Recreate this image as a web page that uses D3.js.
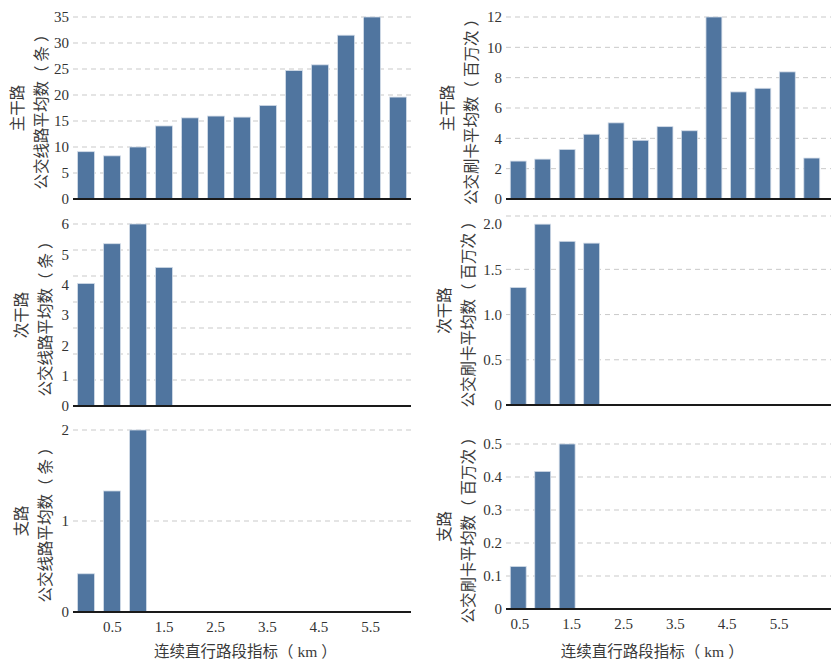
<!DOCTYPE html>
<html>
<head>
<meta charset="utf-8">
<script src="https://cdn.jsdelivr.net/npm/d3@7"></script>
<style>
  html, body { margin: 0; padding: 0; background: #fff; }
  svg { display: block; }
  text { font-family: "Liberation Serif", "Noto Sans CJK SC", serif; }
</style>
</head>
<body>
<svg id="chart" width="831" height="659"></svg>
<script>
// ---------------- data ----------------
const categories = ["0","0.5","1","1.5","2","2.5","3","3.5","4","4.5","5","5.5","6"];
const xTickLabels = ["0.5","1.5","2.5","3.5","4.5","5.5"];
const roadClasses = ["主干路","次干路","支路"];
const lineCountLabel = "公交线路平均数（条）";
const ridershipLabel = "公交刷卡平均数（百万次）";
const xTitle = "连续直行路段指标（km）";

const lineCountMain      = [9.1, 8.3, 10.0, 14.05, 15.6, 15.95, 15.75, 18.0, 24.7, 25.8, 31.5, 35.0, 19.6];
const lineCountSecondary = [4.04, 5.35, 6.0, 4.57];
const lineCountBranch    = [0.42, 1.33, 2.0];

const ridershipMain      = [2.5, 2.63, 3.27, 4.27, 5.02, 3.87, 4.77, 4.5, 12.0, 7.06, 7.3, 8.38, 2.7];
const ridershipSecondary = [1.30, 2.0, 1.81, 1.79];
const ridershipBranch    = [0.129, 0.417, 0.5];

const yTicksLineMain      = [0, 5, 10, 15, 20, 25, 30, 35];
const yTicksLineSecondary = [0, 1, 2, 3, 4, 5, 6];
const yTicksLineBranch    = [0, 1, 2];
const yTicksRideMain      = [0, 2, 4, 6, 8, 10, 12];
const yTicksRideSecondary = [0, 0.5, 1.0, 1.5, 2.0];
const yTicksRideBranch    = [0, 0.1, 0.2, 0.3, 0.4, 0.5];

// ---------------- layout ----------------
const svg = d3.select("#chart");
const barColor = "#50759f";
const fontPx = 15;
const cjkPx = 15.5;

// write a label with a little extra room inside the full-width brackets
function writeSpaced(textSel, s) {
  const m = s.match(/^(.*)（(.*)）$/);
  if (!m) { textSel.text(s); return; }
  textSel.append("tspan").text(m[1] + "（");
  textSel.append("tspan").attr("dx", 4).text(m[2]);
  textSel.append("tspan").attr("dx", 4).text("）");
}

const cols = [
  { x0: 73,  x1: 411, lineEnd: 411, tickFrom: 0.115, tickTo: 0.879, titleFrac: 0.51 },
  { x0: 506, x1: 824, lineEnd: 831, tickFrom: 0.042, tickTo: 0.857, titleFrac: 0.46 }
];

const panels = [
  { col: 0, row: 0, values: lineCountMain, ticks: yTicksLineMain, fmt: d3.format("d"),
    top: 17, bottom: 199, yMax: 35, label: lineCountLabel, labelX: 42 },
  { col: 1, row: 0, values: ridershipMain, ticks: yTicksRideMain, fmt: d3.format("d"),
    top: 17, bottom: 199, yMax: 12, label: ridershipLabel, labelX: 472 },
  { col: 0, row: 1, values: lineCountSecondary, ticks: yTicksLineSecondary, fmt: d3.format("d"),
    top: 224, bottom: 406, yMax: 6, label: lineCountLabel, labelX: 46, gridCount: 7 },
  { col: 1, row: 1, values: ridershipSecondary, ticks: yTicksRideSecondary, fmt: d => d === 0 ? "0" : d3.format(".1f")(d),
    top: 216, bottom: 405, yMax: 2.09, label: ridershipLabel, labelX: 469, gridTop: true },
  { col: 0, row: 2, values: lineCountBranch, ticks: yTicksLineBranch, fmt: d3.format("d"),
    top: 430, bottom: 612, yMax: 2, label: lineCountLabel, labelX: 46 },
  { col: 1, row: 2, values: ridershipBranch, ticks: yTicksRideBranch, fmt: d => d === 0 ? "0" : d3.format(".1f")(d),
    top: 444, bottom: 609, yMax: 0.5, label: ridershipLabel, labelX: 469 }
];

panels.forEach(p => {
  const c = cols[p.col];
  const g = svg.append("g");
  const x = d3.scaleBand().domain(categories).range([c.x0, c.x1])
    .paddingInner(0.35).paddingOuter(0.175);
  const y = d3.scaleLinear().domain([0, p.yMax]).range([p.bottom, p.top]);

  // gridlines
  let grid = p.ticks.filter(t => t > 0);
  if (p.gridCount) grid = d3.range(1, p.gridCount + 1).map(i => i * p.yMax / p.gridCount);
  if (p.gridTop) grid = grid.filter(t => t < p.ticks[p.ticks.length - 1]).concat([p.yMax]);
  g.selectAll("line.grid").data(grid).join("line")
    .attr("x1", c.x0).attr("x2", c.lineEnd)
    .attr("y1", d => y(d)).attr("y2", d => y(d))
    .attr("stroke", "#c9c9c9").attr("stroke-width", 1)
    .attr("stroke-dasharray", "5,4");

  // bars
  g.selectAll("rect.bar").data(p.values).join("rect")
    .attr("x", (d, i) => x(categories[i]))
    .attr("width", x.bandwidth())
    .attr("y", d => y(d))
    .attr("height", d => y(0) - y(d))
    .attr("fill", barColor)
    .attr("stroke", "#d3dce8").attr("stroke-width", 0.8);

  // baseline
  g.append("line")
    .attr("x1", c.x0).attr("x2", c.lineEnd)
    .attr("y1", y(0)).attr("y2", y(0))
    .attr("stroke", "#1a1a1a").attr("stroke-width", 2.2);

  // y tick labels
  const yTickG = g.append("g").attr("transform", `translate(${c.x0 - 4},0)`);
  const yAxis = d3.axisLeft(y).tickValues(p.ticks).tickFormat(p.fmt).tickSize(0).tickPadding(0);
  yTickG.call(yAxis);
  yTickG.select(".domain").remove();
  yTickG.selectAll("text")
    .attr("font-family", "Liberation Serif, serif")
    .attr("font-size", fontPx).attr("fill", "#333");

  // y label (two lines, rotated)
  const cy = (p.top + p.bottom) / 2;
  g.append("text")
    .attr("transform", `translate(${p.labelX},${cy}) rotate(-90)`)
    .attr("text-anchor", "middle")
    .attr("font-family", "Noto Sans CJK SC, Liberation Serif, serif")
    .attr("font-size", cjkPx).attr("fill", "#3a3a3a")
    .attr("dy", "-1.2em")
    .text(roadClasses[p.row]);
  const l2 = g.append("text")
    .attr("transform", `translate(${p.labelX},${cy}) rotate(-90)`)
    .attr("text-anchor", "middle")
    .attr("font-family", "Noto Sans CJK SC, Liberation Serif, serif")
    .attr("font-size", cjkPx).attr("fill", "#3a3a3a")
    .attr("dy", "0.35em");
  writeSpaced(l2, p.label);

  // x axis on bottom row
  if (p.row === 2) {
    const w = c.x1 - c.x0;
    const xt = d3.scaleLinear().domain([0.5, 5.5])
      .range([c.x0 + c.tickFrom * w, c.x0 + c.tickTo * w]);
    const xAxisG = g.append("g").attr("transform", `translate(0,${y(0) + 9})`);
    xAxisG.call(d3.axisBottom(xt).tickValues(xTickLabels.map(Number))
      .tickFormat((d, i) => xTickLabels[i]).tickSize(0).tickPadding(0));
    xAxisG.select(".domain").remove();
    xAxisG.selectAll("text")
      .attr("font-family", "Liberation Serif, serif")
      .attr("font-size", fontPx).attr("fill", "#333");
    const t = g.append("text")
      .attr("x", c.x0 + c.titleFrac * w).attr("y", 657)
      .attr("text-anchor", "middle")
      .attr("font-family", "Noto Sans CJK SC, Liberation Serif, serif")
      .attr("font-size", cjkPx).attr("fill", "#3a3a3a");
    writeSpaced(t, xTitle);
  }
});
</script>
</body>
</html>
